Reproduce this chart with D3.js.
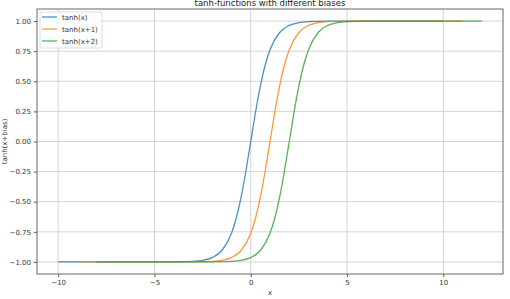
<!DOCTYPE html>
<html>
<head>
<meta charset="utf-8">
<script src="https://cdn.jsdelivr.net/npm/d3@7"></script>
<style>
  body { margin: 0; background: #fff; }
  svg { font-family: "DejaVu Sans", sans-serif; }
</style>
</head>
<body>
<script>
// values
const seriesNames = ["tanh(x)", "tanh(x+1)", "tanh(x+2)"];
const seriesColors = ["#1f77b4", "#ff7f0e", "#2ca02c"];

const xBlue   = [-10, -4, -3, -2.5, -2, -1.5, -1, -0.75, -0.5, -0.25, 0, 0.25, 0.5, 0.75, 1, 1.5, 2, 2.5, 3, 4, 10];
const yBlue   = [-1, -0.999, -0.995, -0.987, -0.964, -0.905, -0.762, -0.635, -0.462, -0.245, 0, 0.245, 0.462, 0.635, 0.762, 0.905, 0.964, 0.987, 0.995, 0.999, 1];
const xOrange = [-9, -3, -2, -1.5, -1, -0.5, 0, 0.25, 0.5, 0.75, 1, 1.25, 1.5, 1.75, 2, 2.5, 3, 3.5, 4, 5, 11];
const yOrange = [-1, -0.999, -0.995, -0.987, -0.964, -0.905, -0.762, -0.635, -0.462, -0.245, 0, 0.245, 0.462, 0.635, 0.762, 0.905, 0.964, 0.987, 0.995, 0.999, 1];
const xGreen  = [-8, -2, -1, -0.5, 0, 0.5, 1, 1.25, 1.5, 1.75, 2, 2.25, 2.5, 2.75, 3, 3.5, 4, 4.5, 5, 6, 12];
const yGreen  = [-1, -0.999, -0.995, -0.987, -0.964, -0.905, -0.762, -0.635, -0.462, -0.245, 0, 0.245, 0.462, 0.635, 0.762, 0.905, 0.964, 0.987, 0.995, 0.999, 1];

const xTicks = [-10, -5, 0, 5, 10];
const yTicks = [-1, -0.75, -0.5, -0.25, 0, 0.25, 0.5, 0.75, 1];

const series = [
    {name: seriesNames[0], xs: xBlue, ys: yBlue},
    {name: seriesNames[1], xs: xOrange, ys: yOrange},
    {name: seriesNames[2], xs: xGreen, ys: yGreen}
];

const W = 510, H = 299;
const margin = {top: 9, right: 7, bottom: 25, left: 37},
    width = W - margin.left - margin.right,
    height = H - margin.top - margin.bottom;

var x = d3.scaleLinear().domain([-11.1, 13.1]).range([0, width]);
var y = d3.scaleLinear().domain([-1.1, 1.1]).range([height, 0]);

var svg = d3.select("body").append("svg")
    .attr("width", W)
    .attr("height", H);

var g = svg.append("g")
    .attr("transform", "translate(" + margin.left + "," + margin.top + ")");

// grid
g.append("g")
    .selectAll("line")
    .data(xTicks)
    .enter().append("line")
    .attr("x1", d => x(d)).attr("x2", d => x(d))
    .attr("y1", 0).attr("y2", height)
    .attr("stroke", "#d4d4d4").attr("stroke-width", 1);

g.append("g")
    .selectAll("line")
    .data(yTicks)
    .enter().append("line")
    .attr("y1", d => y(d)).attr("y2", d => y(d))
    .attr("x1", 0).attr("x2", width)
    .attr("stroke", "#d4d4d4").attr("stroke-width", 1);

// lines
var line = d3.line()
    .x(d => x(d[0]))
    .y(d => y(d[1]))
    .curve(d3.curveMonotoneX);

series.forEach(function(s, i) {
    g.append("path")
        .datum(s.xs.map((v, j) => [v, s.ys[j]]))
        .attr("fill", "none")
        .attr("stroke", seriesColors[i])
        .attr("stroke-opacity", 0.8)
        .attr("stroke-width", 1.3)
        .attr("d", line);
});

// axes
var xAxis = g.append("g")
    .attr("transform", "translate(0," + height + ")")
    .call(d3.axisBottom(x).tickValues(xTicks).tickSize(3).tickPadding(3).tickFormat(d => d < 0 ? "\u2212" + Math.abs(d) : d));

var yAxis = g.append("g")
    .call(d3.axisLeft(y).tickValues(yTicks).tickSize(3).tickPadding(3)
        .tickFormat(d => (d < 0 ? "\u2212" : "") + Math.abs(d).toFixed(2)));

[xAxis, yAxis].forEach(a => {
    a.select(".domain").remove();
    a.selectAll("line").attr("stroke", "#555");
    a.selectAll("text").attr("fill", "#333").style("font-size", "7px").style("font-family", "DejaVu Sans");
});

// frame
g.append("rect")
    .attr("width", width).attr("height", height)
    .attr("fill", "none").attr("stroke", "#666").attr("stroke-width", 1);

// title and labels
svg.append("text")
    .attr("x", margin.left + width / 2).attr("y", 6)
    .attr("text-anchor", "middle")
    .style("font-size", "8.5px").attr("fill", "#222")
    .text("tanh-functions with different biases");

svg.append("text")
    .attr("x", margin.left + width / 2).attr("y", 295)
    .attr("text-anchor", "middle")
    .style("font-size", "7px").attr("fill", "#333")
    .text("x");

svg.append("text")
    .attr("transform", "translate(7," + (margin.top + height / 2) + ") rotate(-90)")
    .attr("text-anchor", "middle")
    .style("font-size", "7px").attr("fill", "#333")
    .text("tanh(x+bias)");

// legend
var legend = g.append("g").attr("transform", "translate(3,3)");
legend.append("rect")
    .attr("width", 62).attr("height", 36).attr("rx", 2)
    .attr("fill", "#fff").attr("fill-opacity", 0.85)
    .attr("stroke", "#ddd");
series.forEach(function(s, i) {
    var ly = 5 + i * 12;
    legend.append("line")
        .attr("x1", 2).attr("x2", 17)
        .attr("y1", ly).attr("y2", ly)
        .attr("stroke", seriesColors[i]).attr("stroke-opacity", 0.8).attr("stroke-width", 1.3);
    legend.append("text")
        .attr("x", 22).attr("y", ly + 2.5)
        .style("font-size", "7px").attr("fill", "#333")
        .text(s.name);
});
</script>
</body>
</html>
